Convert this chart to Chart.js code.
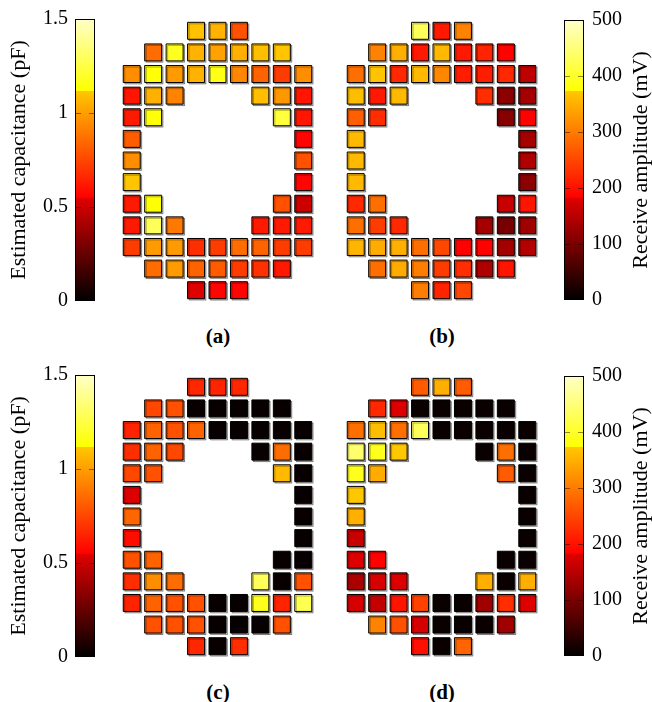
<!DOCTYPE html>
<html>
<head>
<meta charset="utf-8">
<script src="https://cdn.jsdelivr.net/npm/chart.js@4.4.1/dist/chart.umd.min.js"></script>
<style>
  html, body { margin: 0; padding: 0; background: #fff; }
  body { position: relative; width: 652px; height: 702px; overflow: hidden; }
  canvas { position: absolute; }
  .cap { position: absolute; width: 60px; text-align: center; font: bold 21px "Liberation Serif", serif; line-height: 22px; color: #000; }
</style>
</head>
<body>
<canvas id="cbA" width="110" height="320" style="left:0;top:0"></canvas>
<canvas id="gridA" width="219" height="307" style="left:108px;top:7px"></canvas>
<canvas id="gridB" width="219" height="307" style="left:332px;top:7px"></canvas>
<canvas id="cbB" width="100" height="320" style="left:552px;top:0"></canvas>
<canvas id="cbC" width="110" height="320" style="left:0;top:356px"></canvas>
<canvas id="gridC" width="219" height="307" style="left:108px;top:363px"></canvas>
<canvas id="gridD" width="219" height="307" style="left:332px;top:363px"></canvas>
<canvas id="cbD" width="100" height="320" style="left:552px;top:356px"></canvas>
<div class="cap" style="left:188px;top:325px">(a)</div>
<div class="cap" style="left:412px;top:325px">(b)</div>
<div class="cap" style="left:188px;top:681px">(c)</div>
<div class="cap" style="left:412px;top:681px">(d)</div>
<script>
// which columns are populated in each of the 13 rows (ring layout)
const rowCols = [
  [3, 4, 5],
  [1, 2, 3, 4, 5, 6, 7],
  [0, 1, 2, 3, 4, 5, 6, 7, 8],
  [0, 1, 2, 6, 7, 8],
  [0, 1, 7, 8],
  [0, 8],
  [0, 8],
  [0, 8],
  [0, 1, 7, 8],
  [0, 1, 2, 6, 7, 8],
  [0, 1, 2, 3, 4, 5, 6, 7, 8],
  [1, 2, 3, 4, 5, 6, 7],
  [3, 4, 5]
];

// (a) estimated capacitance, pF
const capA = [
  [1.10, 1.06, 0.78],
  [0.86, 1.18, 1.06, 1.01, 1.05, 1.09, 1.11],
  [0.95, 1.13, 0.99, 1.06, 1.16, 0.93, 0.83, 0.72, 0.95],
  [0.61, 1.05, 0.92, 1.09, 0.98, 0.61],
  [0.62, 1.13, 1.23, 0.61],
  [0.81, 0.56],
  [0.95, 0.78],
  [1.11, 0.56],
  [0.62, 1.125, 0.78, 0.50],
  [0.62, 1.29, 0.89, 0.62, 0.62, 0.62],
  [0.72, 0.99, 0.99, 0.68, 0.72, 0.86, 0.83, 0.72, 0.72],
  [0.86, 0.99, 0.83, 0.81, 0.72, 0.69, 0.62],
  [0.545, 0.56, 0.56]
];

// (b) receive amplitude, mV
const ampB = [
  [430, 207, 307],
  [307, 349, 207, 359, 207, 216, 185],
  [288, 368, 221, 359, 311, 211, 211, 221, 155],
  [363, 207, 359, 226, 114, 134],
  [273, 226, 110, 185],
  [359, 134],
  [359, 142],
  [359, 114],
  [221, 288, 163, 202],
  [288, 240, 221, 134, 98, 130],
  [354, 345, 349, 288, 250, 185, 185, 134, 146],
  [288, 345, 302, 240, 226, 142, 202],
  [302, 216, 250]
];

// (c) estimated capacitance, pF
const capC = [
  [0.66, 0.65, 0.66],
  [0.75, 0.78, 0.02, 0.02, 0.02, 0.02, 0.02],
  [0.65, 0.83, 0.78, 0.83, 0.02, 0.02, 0.02, 0.02, 0.02],
  [0.68, 0.83, 0.75, 0.02, 0.86, 0.02],
  [0.75, 0.78, 1.08, 0.02],
  [0.54, 0.02],
  [0.84, 0.02],
  [0.58, 0.02],
  [0.78, 0.83, 0.02, 0.02],
  [0.68, 0.95, 0.86, 1.29, 0.02, 0.78],
  [0.65, 0.83, 0.78, 0.78, 0.02, 0.02, 1.17, 0.65, 1.27],
  [0.78, 0.78, 0.78, 0.02, 0.02, 0.02, 0.78],
  [0.66, 0.02, 0.68]
];

// (d) receive amplitude, mV
const ampD = [
  [269, 349, 269],
  [221, 179, 8, 8, 8, 8, 8],
  [288, 363, 288, 430, 8, 8, 8, 8, 8],
  [443, 392, 372, 8, 288, 8],
  [392, 345, 269, 8],
  [372, 8],
  [349, 8],
  [163, 8],
  [180, 185, 8, 8],
  [138, 175, 180, 349, 8, 349],
  [175, 159, 202, 245, 8, 8, 130, 226, 181],
  [307, 259, 175, 8, 8, 8, 130],
  [197, 8, 278]
];

const capTicks = [0, 0.5, 1, 1.5];
const ampTicks = [0, 100, 200, 300, 400, 500];
const capMax = 1.5;
const ampMax = 500;

// hot-like colormap with the hard steps seen in the colorbars
const cmapPos = [0, 0.366, 0.366, 0.746, 0.746, 1];
const cmapRgb = [[0, 0, 0], [225, 0, 0], [255, 0, 0], [255, 200, 0], [255, 255, 0], [255, 255, 200]];

const serif = '"Liberation Serif", "DejaVu Serif", serif';

function colorOf(t) {
  t = Math.max(0, Math.min(1, t));
  for (let i = 0; i < cmapPos.length - 1; i++) {
    const a = cmapPos[i], b = cmapPos[i + 1];
    if (b > a && t >= a && t <= b) {
      const f = (t - a) / (b - a);
      const c = cmapRgb[i].map((v, k) => Math.round(v + (cmapRgb[i + 1][k] - v) * f));
      return `rgb(${c[0]},${c[1]},${c[2]})`;
    }
  }
  return 'rgb(255,255,200)';
}

// light grey drop shadow under each cell
const cellShadow = {
  id: 'cellShadow',
  beforeDatasetsDraw(chart) {
    const ctx = chart.ctx;
    ctx.save();
    ctx.shadowColor = 'rgba(0,0,0,0.3)';
    ctx.shadowBlur = 0.5;
    ctx.shadowOffsetX = 1.5;
    ctx.shadowOffsetY = 1.5;
    ctx.lineJoin = 'miter';
  },
  afterDatasetsDraw(chart) {
    chart.ctx.restore();
  }
};

function gridChart(id, vals, max) {
  const pts = [];
  const colors = [];
  rowCols.forEach((cols, r) => cols.forEach((c, k) => {
    pts.push({ x: c, y: r });
    colors.push(colorOf(vals[r][k] / max));
  }));
  new Chart(document.getElementById(id), {
    type: 'scatter',
    data: {
      datasets: [{
        data: pts,
        pointBackgroundColor: colors,
        pointBorderColor: '#000',
        pointBorderWidth: 1,
        pointStyle: 'rect',
        pointRadius: 12,
        pointHoverRadius: 12,
        clip: false
      }]
    },
    options: {
      responsive: false,
      animation: false,
      events: [],
      layout: { padding: 10 },
      plugins: { legend: { display: false }, tooltip: { enabled: false } },
      scales: {
        x: { type: 'linear', min: -0.5, max: 8.5, display: false },
        y: { type: 'linear', min: -0.5, max: 12.5, reverse: true, display: false }
      }
    },
    plugins: [cellShadow]
  });
}

const colorbarFill = {
  id: 'colorbarFill',
  beforeDatasetsDraw(chart, args, opts) {
    const { ctx, chartArea: a } = chart;
    const g = ctx.createLinearGradient(0, a.bottom, 0, a.top);
    cmapPos.forEach((p, i) => g.addColorStop(p, `rgb(${cmapRgb[i].join(',')})`));
    ctx.save();
    ctx.fillStyle = g;
    ctx.fillRect(a.left, a.top, a.right - a.left, a.bottom - a.top);
    // small inner tick marks
    const y = chart.scales.y;
    ctx.strokeStyle = 'rgba(0,0,0,0.45)';
    ctx.lineWidth = 1;
    y.ticks.forEach(t => {
      if (t.value <= y.min || t.value >= y.max) return;
      const py = Math.round(y.getPixelForValue(t.value)) + 0.5;
      ctx.beginPath();
      ctx.moveTo(a.left, py); ctx.lineTo(a.left + 6, py);
      ctx.moveTo(a.right - 6, py); ctx.lineTo(a.right, py);
      ctx.stroke();
    });
    ctx.strokeStyle = '#000';
    ctx.strokeRect(a.left + 0.5, a.top + 0.5, a.right - a.left - 1, a.bottom - a.top - 1);
    if (opts.title) {
      ctx.fillStyle = '#000';
      ctx.font = '22px ' + serif;
      ctx.textAlign = 'center';
      ctx.textBaseline = 'middle';
      ctx.translate(opts.titleX, (a.top + a.bottom) / 2);
      ctx.rotate(-Math.PI / 2);
      ctx.fillText(opts.title, 0, 0);
    }
    ctx.restore();
  }
};

function colorbar(id, side, max, ticks, title) {
  const left = side === 'left';
  new Chart(document.getElementById(id), {
    type: 'scatter',
    data: { datasets: [] },
    options: {
      responsive: false,
      animation: false,
      events: [],
      layout: { padding: left ? { left: 0, right: 15, top: 19, bottom: 18 } : { left: 12, right: 0, top: 19, bottom: 18 } },
      plugins: {
        legend: { display: false },
        tooltip: { enabled: false },
        colorbarFill: left ? {} : { title: title, titleX: 89 }
      },
      scales: {
        x: { display: false },
        y: {
          type: 'linear',
          position: side,
          min: 0,
          max: max,
          afterBuildTicks: s => { s.ticks = ticks.map(v => ({ value: v })); },
          afterFit: s => { s.width = left ? 75 : 68; },
          grid: { display: false, drawTicks: false },
          border: { display: false },
          ticks: {
            color: '#000',
            font: { family: serif, size: 20 },
            padding: left ? 7 : 8,
            callback: v => String(v)
          },
          title: left ? {
            display: true,
            text: title,
            color: '#000',
            font: { family: serif, size: 22 },
            padding: { top: 6, bottom: 0 }
          } : { display: false }
        }
      }
    },
    plugins: [colorbarFill]
  });
}

colorbar('cbA', 'left', capMax, capTicks, 'Estimated capacitance (pF)');
colorbar('cbC', 'left', capMax, capTicks, 'Estimated capacitance (pF)');
colorbar('cbB', 'right', ampMax, ampTicks, 'Receive amplitude (mV)');
colorbar('cbD', 'right', ampMax, ampTicks, 'Receive amplitude (mV)');

gridChart('gridA', capA, capMax);
gridChart('gridB', ampB, ampMax);
gridChart('gridC', capC, capMax);
gridChart('gridD', ampD, ampMax);
</script>
</body>
</html>
